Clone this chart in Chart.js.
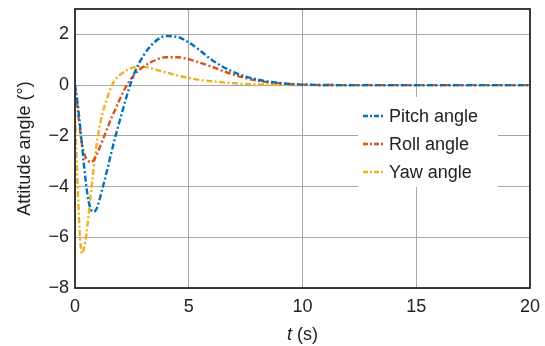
<!DOCTYPE html>
<html>
<head>
<meta charset="utf-8">
<script src="https://cdn.jsdelivr.net/npm/chart.js@4.4.1/dist/chart.umd.min.js"></script>
<style>
  html, body { margin: 0; padding: 0; background: #fff; }
  #wrap { width: 545px; height: 346px; }
</style>
</head>
<body>
<div id="wrap"><canvas id="attitudeChart"></canvas></div>
<script>
// time samples (s)
const times = [0, 0.1, 0.2, 0.3, 0.4, 0.5, 0.6, 0.7, 0.8, 0.9, 1.0, 1.2, 1.4, 1.6, 1.8, 2.0, 2.3, 2.6, 3.0, 3.5, 4.0, 4.5, 5.0, 5.5, 6.0, 7.0, 8.0, 9.0, 10, 12, 15, 20];
// attitude angles (deg)
const pitchAngle = [0, -0.6, -1.4, -2.3, -3.2, -4.0, -4.6, -4.9, -5.0, -4.95, -4.75, -4.1, -3.4, -2.65, -1.95, -1.3, -0.35, 0.45, 1.15, 1.7, 1.93, 1.9, 1.68, 1.36, 1.0, 0.5, 0.22, 0.08, 0.02, 0, 0, 0];
const rollAngle = [-0.15, -0.8, -1.6, -2.3, -2.7, -2.9, -3.0, -3.03, -2.98, -2.85, -2.65, -2.2, -1.75, -1.3, -0.9, -0.5, 0.03, 0.4, 0.72, 0.97, 1.1, 1.1, 1.02, 0.88, 0.73, 0.4, 0.18, 0.07, 0.02, 0, 0, 0];
const yawAngle = [-1.1, -3.6, -5.7, -6.65, -6.4, -5.9, -5.1, -4.25, -3.45, -2.65, -2.05, -1.15, -0.55, -0.05, 0.25, 0.42, 0.6, 0.7, 0.72, 0.62, 0.5, 0.38, 0.28, 0.2, 0.15, 0.07, 0.03, 0.01, 0, 0, 0, 0];
const xTicks = [0, 5, 10, 15, 20];
const yTicks = [-8, -6, -4, -2, 0, 2];
const seriesNames = ['Pitch angle', 'Roll angle', 'Yaw angle'];

const FONT = 'Liberation Sans, Arial, sans-serif';
const dashPattern = [6, 2.5, 2, 2.5];

function toPoints(vals) {
    return times.map((t, i) => ({ x: t, y: vals[i] }));
}

function makeSet(name, vals, color) {
    return {
        label: name,
        data: toPoints(vals),
        borderColor: color,
        backgroundColor: color,
        borderWidth: 2.4,
        borderDash: dashPattern,
        pointRadius: 0,
        cubicInterpolationMode: 'monotone',
        fill: false
    };
}

// frame, x title and legend drawn by hand
const extras = {
    id: 'extras',
    afterDatasetsDraw(chart) {
        const ctx = chart.ctx;
        const a = chart.chartArea;
        ctx.save();
        // legend
        const lx = 358, ly = 97, lw = 140, lh = 90;
        ctx.fillStyle = '#fff';
        ctx.fillRect(lx, ly, lw, lh);
        ctx.font = '18px ' + FONT;
        ctx.textBaseline = 'middle';
        chart.data.datasets.forEach((ds, i) => {
            const y = 116 + i * 28;
            ctx.strokeStyle = ds.borderColor;
            ctx.lineWidth = 2.4;
            ctx.setLineDash([5, 2, 2, 2]);
            ctx.beginPath();
            ctx.moveTo(363, y);
            ctx.lineTo(385, y);
            ctx.stroke();
            ctx.setLineDash([]);
            ctx.fillStyle = '#222';
            ctx.fillText(ds.label, 389, y + 1);
        });
        // box
        ctx.strokeStyle = '#2a2a2a';
        ctx.lineWidth = 1.8;
        ctx.strokeRect(a.left, a.top, a.right - a.left, a.bottom - a.top);
        // x title: italic t
        ctx.fillStyle = '#222';
        ctx.textBaseline = 'alphabetic';
        const cx = (a.left + a.right) / 2;
        ctx.font = 'italic 18px ' + FONT;
        const w1 = ctx.measureText('t').width;
        ctx.font = '18px ' + FONT;
        const w2 = ctx.measureText(' (s)').width;
        const sx = cx - (w1 + w2) / 2;
        ctx.font = 'italic 18px ' + FONT;
        ctx.fillText('t', sx, 340);
        ctx.font = '18px ' + FONT;
        ctx.fillText(' (s)', sx + w1, 340);
        ctx.restore();
    }
};

new Chart(document.getElementById('attitudeChart'), {
    type: 'line',
    data: {
        datasets: [
            makeSet(seriesNames[0], pitchAngle, '#0072BD'),
            makeSet(seriesNames[1], rollAngle, '#D95319'),
            makeSet(seriesNames[2], yawAngle, '#EDB120')
        ]
    },
    options: {
        responsive: true,
        maintainAspectRatio: false,
        animation: false,
        layout: { padding: { top: 9, right: 15, left: 0, bottom: 0 } },
        plugins: {
            legend: { display: false },
            tooltip: { enabled: false }
        },
        scales: {
            x: {
                type: 'linear',
                min: 0,
                max: 20,
                afterBuildTicks: s => { s.ticks = xTicks.map(v => ({ value: v })); },
                afterFit: s => { s.height = 58; s.paddingLeft = 0; s.paddingRight = 0; },
                grid: { color: '#a6a6a6', lineWidth: 1, drawTicks: false },
                border: { display: false },
                ticks: { color: '#222', font: { family: FONT, size: 18 }, padding: 8, maxRotation: 0 }
            },
            y: {
                min: -8,
                max: 3,
                afterBuildTicks: s => { s.ticks = yTicks.map(v => ({ value: v })); },
                afterFit: s => { s.width = 75; s.paddingTop = 0; s.paddingBottom = 0; },
                grid: { color: '#a6a6a6', lineWidth: 1, drawTicks: false },
                border: { display: false },
                ticks: {
                    color: '#222',
                    font: { family: FONT, size: 18 },
                    padding: 6,
                    callback: v => String(v).replace('-', '\u2212')
                },
                title: {
                    display: true,
                    text: 'Attitude angle (°)',
                    color: '#222',
                    font: { family: FONT, size: 18 },
                    padding: { top: 14, bottom: 0 }
                }
            }
        }
    },
    plugins: [extras]
});
</script>
</body>
</html>
